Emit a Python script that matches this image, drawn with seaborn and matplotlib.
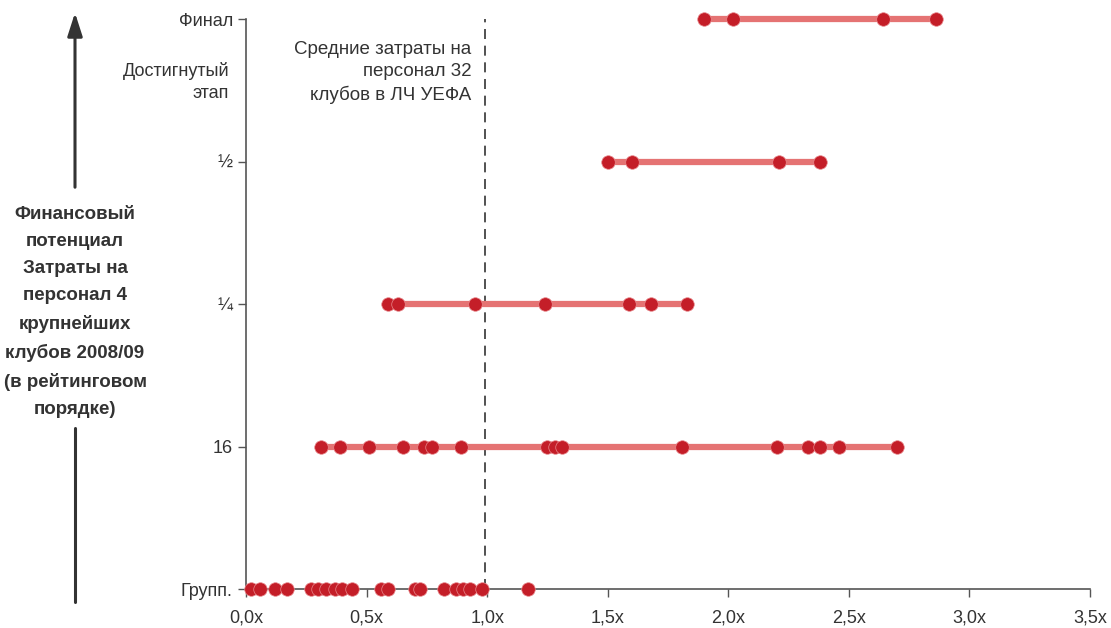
import numpy as np
import pandas as pd
import seaborn as sns
import matplotlib.pyplot as plt
from matplotlib.lines import Line2D

# ===== data =====
stages = ["Групп.", "16", "¼", "½", "Финал"]

group_vals = [0.02, 0.06, 0.12, 0.17, 0.27, 0.30, 0.33, 0.37, 0.40, 0.44,
              0.56, 0.59, 0.70, 0.72, 0.82, 0.87, 0.90, 0.93, 0.98, 1.17]
r16_vals = [0.31, 0.39, 0.51, 0.65, 0.74, 0.77, 0.89, 1.25, 1.28, 1.31,
            1.81, 2.20, 2.33, 2.38, 2.46, 2.70]
qf_vals = [0.59, 0.63, 0.95, 1.24, 1.59, 1.68, 1.83]
sf_vals = [1.50, 1.60, 2.21, 2.38]
final_vals = [1.90, 2.02, 2.64, 2.86]

avg_cost = 0.99
x_ticks = [0.0, 0.5, 1.0, 1.5, 2.0, 2.5, 3.0, 3.5]

rows = []
for i, vals in enumerate([group_vals, r16_vals, qf_vals, sf_vals, final_vals]):
    for v in vals:
        rows.append({"stage": stages[i], "pos": i, "cost": v})
df = pd.DataFrame(rows)

# ===== style =====
sns.set_style("ticks")
plt.rcParams["font.family"] = ["Liberation Sans", "DejaVu Sans"]

DOT = "#c41e28"
LINE = "#e57373"
AXC = "#555555"
TXT = "#333333"

fig = plt.figure(figsize=(11.11, 6.28), dpi=100)
ax = fig.add_axes([246 / 1111, 1 - 589 / 628, (1090 - 246) / 1111, (589 - 19) / 628])

# range lines (not for group stage, it sits on the axis)
rng = df[df["pos"] > 0].groupby("pos")["cost"].agg(["min", "max"])
for pos, r in rng.iterrows():
    ax.plot([r["min"], r["max"]], [pos, pos], color=LINE, lw=4.5,
            solid_capstyle="butt", zorder=2, clip_on=False)

sns.scatterplot(data=df, x="cost", y="pos", ax=ax, color=DOT, s=95,
                edgecolor="#e8898d", linewidth=0.5, zorder=3, clip_on=False,
                legend=False)

# average line
ax.plot([avg_cost, avg_cost], [0, 4], color=TXT, lw=1.2,
        ls=(0, (6, 4)), zorder=1)
ax.text(avg_cost - 0.055, 3.625, "Средние затраты на\nперсонал 32\nклубов в ЛЧ УЕФА",
        ha="right", va="center", fontsize=13.5, color=TXT, linespacing=1.4)

ax.set_xlim(0, 3.5)
ax.set_ylim(0, 4)
ax.set_xticks(x_ticks)
ax.set_xticklabels([f"{t:.1f}x".replace(".", ",") for t in x_ticks])
ax.set_yticks(range(len(stages)))
ax.set_yticklabels(stages)
ax.tick_params(axis="both", colors=AXC, labelcolor=TXT, labelsize=13,
               length=6, width=1)
ax.tick_params(axis="x", pad=9)
ax.set_xlabel("")
ax.set_ylabel("")
sns.despine(ax=ax)
for s in ["left", "bottom"]:
    ax.spines[s].set_color(AXC)
    ax.spines[s].set_linewidth(1.2)

ax.annotate("Достигнутый\nэтап", xy=(0, 3.56), xycoords=("axes fraction", "data"),
            xytext=(-12, 0), textcoords="offset points", ha="right", va="center",
            fontsize=13, color=TXT, linespacing=1.4)

# left side label with arrow
fig.text(75 / 1111, 1 - 312 / 628,
         "Финансовый\nпотенциал\nЗатраты на\nперсонал 4\nкрупнейших\nклубов 2008/09\n(в рейтинговом\nпорядке)",
         ha="center", va="center", fontsize=13.5, fontweight="bold",
         color=TXT, linespacing=1.78)
ax.annotate("", xy=(75 / 1111, 1 - 10 / 628), xycoords="figure fraction",
            xytext=(75 / 1111, 1 - 190 / 628), textcoords="figure fraction",
            arrowprops=dict(arrowstyle="-|>,head_length=1.4,head_width=0.45",
                            color=TXT, lw=2.2), annotation_clip=False)
fig.add_artist(Line2D([75 / 1111, 75 / 1111], [1 - 428 / 628, 1 - 602 / 628],
                      color=TXT, lw=2.2, transform=fig.transFigure))

fig.savefig("out.png", dpi=100)
